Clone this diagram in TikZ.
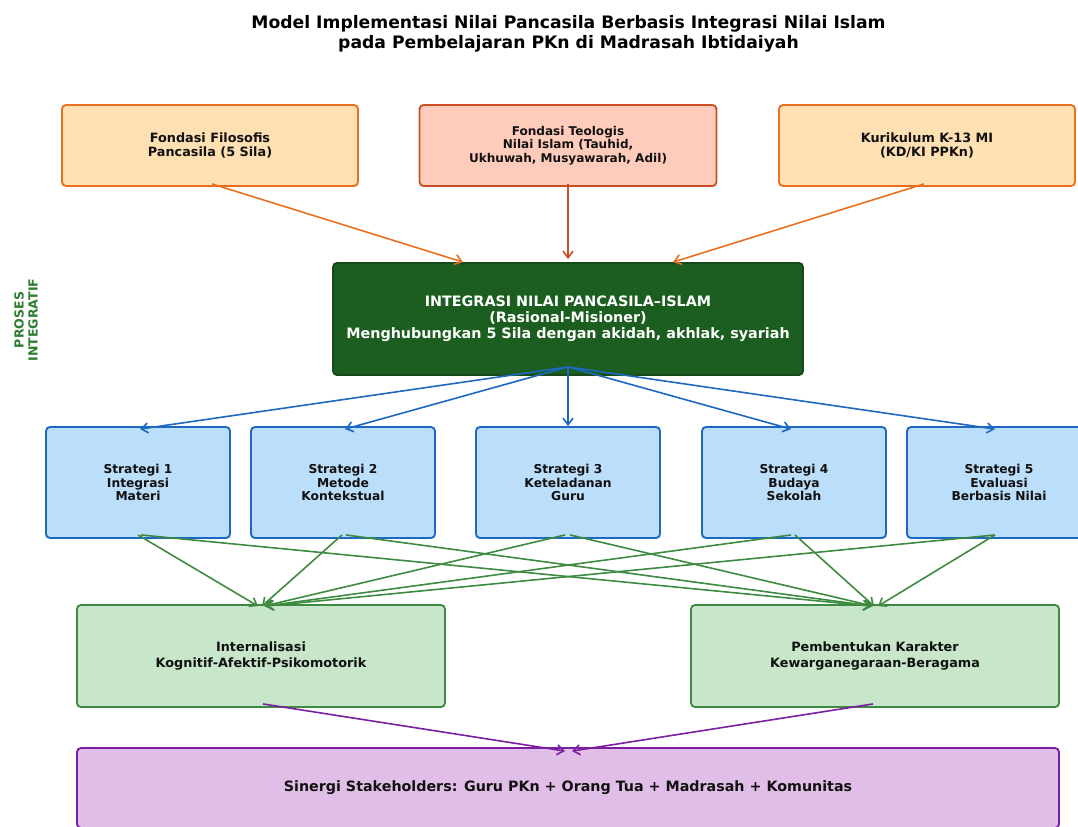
\documentclass[tikz,border=0pt]{standalone}
\usepackage{fontspec}
\setmainfont{DejaVu Sans}
\usetikzlibrary{arrows.meta,calc}
\definecolor{fondfill}{HTML}{FFE0B2}
\definecolor{fonddraw}{HTML}{E8701E}
\definecolor{teofill}{HTML}{FFCCBC}
\definecolor{teodraw}{HTML}{CC4E24}
\definecolor{integfill}{HTML}{1B5E20}
\definecolor{integdraw}{HTML}{174A19}
\definecolor{stratfill}{HTML}{BBDEFB}
\definecolor{stratdraw}{HTML}{1E68C0}
\definecolor{outfill}{HTML}{C8E6C9}
\definecolor{outdraw}{HTML}{3D8B40}
\definecolor{sinfill}{HTML}{E1BEE7}
\definecolor{sindraw}{HTML}{7B1FA2}
\definecolor{sidegreen}{HTML}{2E7D32}
\definecolor{txt}{HTML}{111111}

\begin{document}
\begin{tikzpicture}[x=0.75pt,y=-0.75pt,
  >={Straight Barb[length=5pt,width=7.5pt]},
  box/.style={draw,rounded corners=3pt,line width=1.4pt,align=center,inner sep=0pt,text=txt},
  fondbox/.style={box,fill=fondfill,draw=fonddraw,minimum width=222pt,minimum height=60.75pt,font=\bfseries\fontsize{9.6}{10.9}\selectfont},
  teobox/.style={box,fill=teofill,draw=teodraw,minimum width=222.75pt,minimum height=60.75pt,font=\bfseries\fontsize{9.05}{10.1}\selectfont},
  integbox/.style={box,fill=integfill,draw=integdraw,text=white,minimum width=352.5pt,minimum height=84pt,font=\bfseries\fontsize{10.75}{12}\selectfont},
  stratbox/.style={box,fill=stratfill,draw=stratdraw,minimum width=138pt,minimum height=83.25pt,font=\bfseries\fontsize{9.2}{10}\selectfont},
  outbox/.style={box,fill=outfill,draw=outdraw,minimum width=276pt,minimum height=76.5pt,font=\bfseries\fontsize{9.6}{11.7}\selectfont},
  sinbox/.style={box,fill=sinfill,draw=sindraw,minimum width=736.5pt,minimum height=60pt,font=\bfseries\fontsize{10.7}{12}\selectfont},
  fondarrow/.style={->,line width=1.2pt,fonddraw},
  teoarrow/.style={->,line width=1.2pt,teodraw},
  stratarrow/.style={->,line width=1.2pt,stratdraw},
  outarrow/.style={->,line width=1.2pt,outdraw},
  sinarrow/.style={->,line width=1.2pt,sindraw}]
\useasboundingbox (0,0) rectangle (1078,826);

\node[align=center,font=\bfseries\fontsize{12.9}{15}\selectfont] (title) at (568.5,33.5) {Model Implementasi Nilai Pancasila Berbasis Integrasi Nilai Islam\\pada Pembelajaran PKn di Madrasah Ibtidaiyah};

\node[fondbox] (filosofis) at (210,145.5) {Fondasi Filosofis\\Pancasila (5 Sila)};
\node[teobox] (teologis) at (568,145.5) {Fondasi Teologis\\Nilai Islam (Tauhid,\\Ukhuwah, Musyawarah, Adil)};
\node[fondbox] (kurikulum) at (927,145.5) {Kurikulum K-13 MI\\(KD/KI PPKn)};

\node[integbox] (integ) at (568,319) {INTEGRASI NILAI PANCASILA--ISLAM\\(Rasional-Misioner)\\Menghubungkan 5 Sila dengan akidah, akhlak, syariah};
\node[rotate=90,align=center,text=sidegreen,font=\bfseries\fontsize{9.4}{10.5}\selectfont] (proses) at (26,320) {PROSES\\INTEGRATIF};

\node[stratbox] (s1) at (138,482.5) {Strategi 1\\Integrasi\\Materi};
\node[stratbox] (s2) at (343,482.5) {Strategi 2\\Metode\\Kontekstual};
\node[stratbox] (s3) at (568,482.5) {Strategi 3\\Keteladanan\\Guru};
\node[stratbox] (s4) at (794,482.5) {Strategi 4\\Budaya\\Sekolah};
\node[stratbox] (s5) at (999,482.5) {Strategi 5\\Evaluasi\\Berbasis Nilai};

\node[outbox] (kognitif) at (261,656) {Internalisasi\\Kognitif-Afektif-Psikomotorik};
\node[outbox] (karakter) at (875,656) {Pembentukan Karakter\\Kewarganegaraan-Beragama};

\node[sinbox] (sinergi) at (568,788) {Sinergi Stakeholders: Guru PKn + Orang Tua + Madrasah + Komunitas};

\draw[fondarrow] ($(filosofis.south)+(2,-3)$) -- ($(integ.north)+(-105,0)$);
\draw[teoarrow] ($(teologis.south)+(0,-3)$) -- ($(integ.north)+(0,-3)$);
\draw[fondarrow] ($(kurikulum.south)+(-3,-3)$) -- ($(integ.north)+(105,0)$);

\draw[stratarrow] ($(integ.south)+(0,-9)$) -- ($(s1.north)+(2,3)$);
\draw[stratarrow] ($(integ.south)+(0,-9)$) -- ($(s2.north)+(2,3)$);
\draw[stratarrow] ($(integ.south)+(0,-9)$) -- (s3.north);
\draw[stratarrow] ($(integ.south)+(0,-9)$) -- ($(s4.north)+(-3,3)$);
\draw[stratarrow] ($(integ.south)+(0,-9)$) -- ($(s5.north)+(-4,3)$);

\draw[outarrow] ($(s1.south)+(0,-4)$) -- ($(kognitif.north)+(-3,2)$);
\draw[outarrow] ($(s1.south)+(3,-4)$) -- ($(karakter.north)+(-4,2)$);
\draw[outarrow] ($(s2.south)+(-1,-4)$) -- ($(kognitif.north)+(1,2)$);
\draw[outarrow] ($(s2.south)+(3,-4)$) -- ($(karakter.north)+(-3,2)$);
\draw[outarrow] ($(s3.south)+(-3,-4)$) -- ($(kognitif.north)+(3,2)$);
\draw[outarrow] ($(s3.south)+(2,-4)$) -- ($(karakter.north)+(-2,2)$);
\draw[outarrow] ($(s4.south)+(-3,-4)$) -- ($(kognitif.north)+(4,2)$);
\draw[outarrow] ($(s4.south)+(1,-4)$) -- ($(karakter.north)+(-1,2)$);
\draw[outarrow] ($(s5.south)+(-4,-4)$) -- ($(kognitif.north)+(5,2)$);
\draw[outarrow] ($(s5.south)+(-4,-4)$) -- ($(karakter.north)+(3,2)$);

\draw[sinarrow] ($(kognitif.south)+(2,-4)$) -- ($(sinergi.north)+(-3,4)$);
\draw[sinarrow] ($(karakter.south)+(-2,-4)$) -- ($(sinergi.north)+(4,4)$);
\end{tikzpicture}
\end{document}
